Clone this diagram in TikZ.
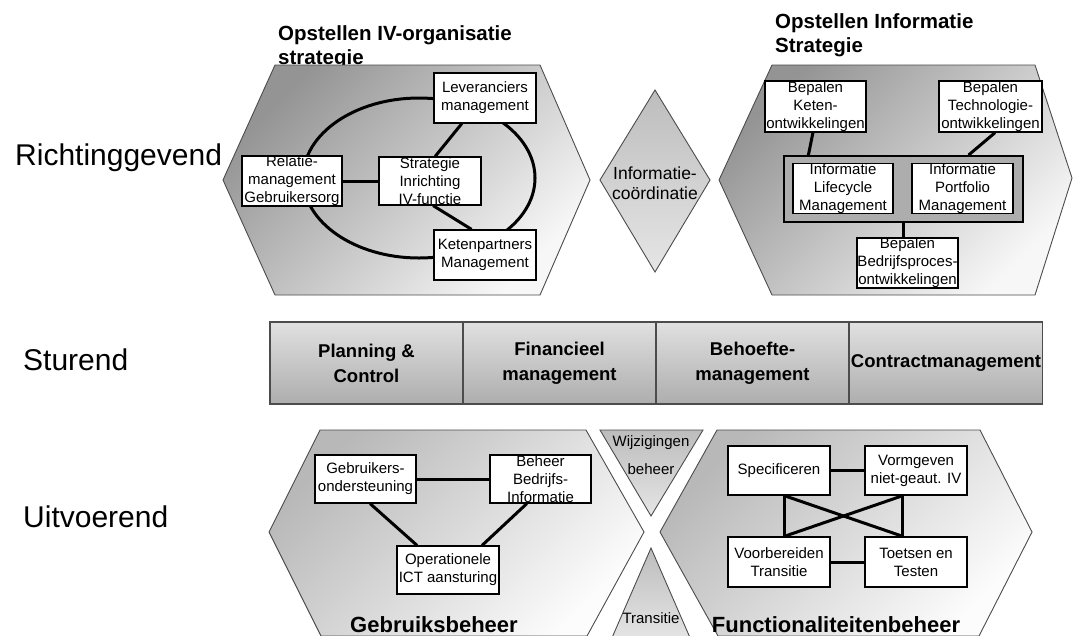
\documentclass[tikz,border=0pt]{standalone}
\usepackage{fontspec}
\setmainfont{Liberation Sans}
\usetikzlibrary{calc}
\definecolor{hexdark}{gray}{0.58}
\definecolor{hexlight}{gray}{0.97}
\definecolor{lowdark}{gray}{0.72}
\definecolor{lowlight}{gray}{0.99}
\definecolor{barlight}{gray}{0.88}
\definecolor{bardark}{gray}{0.68}
\definecolor{edgegray}{gray}{0.3}
\definecolor{contgray}{gray}{0.68}
\definecolor{tridark}{gray}{0.74}
\definecolor{trilight}{gray}{0.90}
\tikzset{
  hexhi/.style={draw=edgegray, line width=0.9pt, top color=hexdark, bottom color=hexlight, shading angle=45},
  hexlo/.style={draw=edgegray, line width=0.9pt, top color=lowdark, bottom color=lowlight, shading angle=45},
  tri/.style={draw=edgegray, line width=0.9pt, top color=tridark, bottom color=trilight},
  procbox/.style={draw=black, line width=1.2pt, fill=white, inner sep=0pt, align=center,
    font=\fontsize{15}{18}\selectfont},
  contbox/.style={draw=black, line width=1.8pt, fill=contgray, inner sep=0pt,
    minimum width=239pt, minimum height=66pt},
  link/.style={line width=3pt, draw=black},
  barcell/.style={draw=edgegray, line width=1.2pt, top color=barlight, bottom color=bardark,
    minimum width=193pt, minimum height=82pt, inner sep=0pt, align=center,
    font=\bfseries\fontsize{18.5}{25}\selectfont},
  layer/.style={font=\fontsize{30}{34}\selectfont, inner sep=0pt, anchor=base west},
  title/.style={font=\bfseries\fontsize{20.5}{24}\selectfont, inner sep=0pt, align=left, anchor=north west},
  small/.style={font=\fontsize{15}{28}\selectfont, inner sep=0pt, align=center},
  mid/.style={font=\fontsize{17.5}{20}\selectfont, inner sep=0pt, align=center},
  big/.style={font=\bfseries\fontsize{22}{26}\selectfont, inner sep=0pt, anchor=base},
}
\begin{document}
\begin{tikzpicture}[x=1pt, y=-1pt]
\useasboundingbox[fill=white] (0,0) rectangle (1075,635);

% layer labels
\node[layer] (lr) at (15,165) {Richtinggevend};
\node[layer] (ls) at (23,370) {Sturend};
\node[layer] (lu) at (23,527) {Uitvoerend};

% titles
\node[title] (t1) at (278,25) {Opstellen IV-organisatie\\strategie};
\node[title] (t2) at (775,13) {Opstellen Informatie\\Strategie};

% top hexagons
\path[hexhi] (223,180) -- (275,65) -- (540,65) -- (590,180) -- (540,295) -- (275,295) -- cycle;
\path[hexhi] (719,180) -- (772,65) -- (1035,65) -- (1072,178) -- (1035,295) -- (772,295) -- cycle;

% diamond
\path[tri] (655,90) -- (710,180) -- (655,272) -- (600,180) -- cycle;
\node[mid] (ic) at (655,183) {Informatie-\\coördinatie};

% bottom hexagons
\path[hexlo] (269,532) -- (320,430) -- (586,430) -- (644,532) -- (587,636) -- (321,636) -- cycle;
\path[hexlo] (660,532) -- (717,430) -- (980,430) -- (1032,532) -- (979,636) -- (718,636) -- cycle;

% triangles
\path[tri] (600,430) -- (703,430) -- (651,516) -- cycle;
\path[tri] (651,548) -- (691,640) -- (611,640) -- cycle;
\node[small] (wb) at (651,455.5) {Wijzigingen\\beheer};
\node[small, anchor=base] (tr) at (651,623) {Transitie};

% ellipse of the IV-organisation strategy
\draw[line width=3pt] (419,178) ellipse [x radius=116pt, y radius=80pt];

% boxes top-left
\node[procbox, minimum width=102pt, minimum height=50pt] (lev) at (485,98) {Leveranciers\\management};
\node[procbox, minimum width=100pt, minimum height=48pt] (rel) at (292,181) {Relatie-\\management\\Gebruikersorg};
\node[procbox, minimum width=102pt, minimum height=48pt] (str) at (430,181) {Strategie\\Inrichting\\IV-functie};
\node[procbox, minimum width=102pt, minimum height=50pt] (ket) at (485,255) {Ketenpartners\\Management};

% boxes top-right
\node[procbox, minimum width=101pt, minimum height=51pt] (bk) at (815.5,106.5) {Bepalen\\Keten-\\ontwikkelingen};
\node[procbox, minimum width=103pt, minimum height=51pt] (bt) at (990.5,106.5) {Bepalen\\Technologie-\\ontwikkelingen};
\node[contbox] (cont) at (903.5,189) {};
\node[procbox, minimum width=100pt, minimum height=49pt] (ilm) at (843,188.5) {Informatie\\Lifecycle\\Management};
\node[procbox, minimum width=101pt, minimum height=49pt] (ipm) at (962.5,188.5) {Informatie\\Portfolio\\Management};
\node[procbox, minimum width=101pt, minimum height=50pt] (bb) at (907.5,263) {Bepalen\\Bedrijfsproces-\\ontwikkelingen};

% bar
\node[barcell] (pc) at (366.5,363) {Planning \&\\Control};
\node[barcell] (fm) at (559.5,363) {Financieel\\management};
\node[barcell] (bm) at (752.5,363) {Behoefte-\\management};
\node[barcell] (cm) at (946,363) {Contractmanagement};

% boxes bottom-left
\node[procbox, minimum width=101pt, minimum height=48pt] (gebr) at (365.5,479) {Gebruikers-\\ondersteuning};
\node[procbox, minimum width=101pt, minimum height=48pt] (bbi) at (540.5,479) {Beheer\\Bedrijfs-\\Informatie};
\node[procbox, minimum width=102pt, minimum height=48pt] (oper) at (448,570) {Operationele\\ICT aansturing};

% boxes bottom-right
\node[procbox, minimum width=102pt, minimum height=49pt] (spec) at (779,470.5) {Specificeren};
\node[procbox, minimum width=102pt, minimum height=49pt] (vorm) at (916,470.5) {Vormgeven\\niet-geaut. IV};
\node[procbox, minimum width=102pt, minimum height=50pt] (voor) at (779,562) {Voorbereiden\\Transitie};
\node[procbox, minimum width=102pt, minimum height=50pt] (toets) at (916,562) {Toetsen en\\Testen};

% bottom titles
\node[big] (gb) at (434,632) {Gebruiksbeheer};
\node[big] (fb) at (836,632) {Functionaliteitenbeheer};

% connectors top-left
\draw[link] ($(lev.south west)!0.275!(lev.south east)$) -- ($(str.north west)!0.55!(str.north east)$);
\draw[link] (rel.east) -- (str.west);
\draw[link] ($(str.south west)!0.53!(str.south east)$) -- ($(ket.north west)!0.37!(ket.north east)$);

% connectors top-right
\draw[link] ($(bk.south west)!0.475!(bk.south east)$) -- ($(cont.north west)!0.105!(cont.north east)$);
\draw[link] ($(bt.south west)!0.544!(bt.south east)$) -- ($(cont.north west)!0.77!(cont.north east)$);
\draw[link] (cont.south) -- (cont.south |- bb.north);

% connectors bottom-left
\draw[link] (gebr.east) -- (bbi.west);
\draw[link] ($(gebr.south west)!0.545!(gebr.south east)$) -- ($(oper.north west)!0.2!(oper.north east)$);
\draw[link] ($(bbi.south west)!0.366!(bbi.south east)$) -- ($(oper.north west)!0.83!(oper.north east)$);

% connectors bottom-right
\draw[link] (spec.east) -- (vorm.west);
\draw[link] (voor.east) -- (toets.west);
\draw[link] ($(spec.south west)!0.55!(spec.south east)$) -- ($(voor.north west)!0.55!(voor.north east)$);
\draw[link] ($(vorm.south west)!0.373!(vorm.south east)$) -- ($(toets.north west)!0.373!(toets.north east)$);
\draw[link] ($(spec.south west)!0.55!(spec.south east)$) -- ($(toets.north west)!0.373!(toets.north east)$);
\draw[link] ($(vorm.south west)!0.373!(vorm.south east)$) -- ($(voor.north west)!0.55!(voor.north east)$);
\end{tikzpicture}
\end{document}
